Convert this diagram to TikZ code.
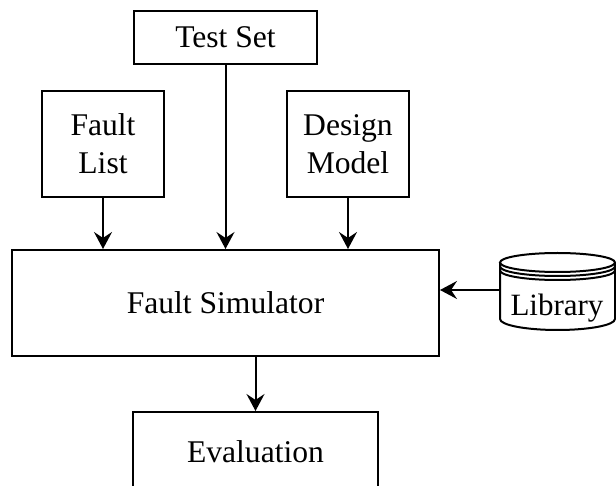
\documentclass[tikz,border=0pt]{standalone}
\usepackage{fontspec}
\setmainfont{Liberation Serif}
\usetikzlibrary{arrows.meta}
\begin{document}
\begin{tikzpicture}[x=0.5pt,y=-0.5pt,
  box/.style={draw,line width=1pt,align=center,inner sep=0pt,font=\fontsize{15.8}{19}\selectfont},
  conn/.style={line width=1pt,-{Stealth[length=8.5pt,width=9pt,inset=3pt]}},
  lbl/.style={font=\fontsize{15.5}{19}\selectfont,inner sep=0pt}]
\useasboundingbox (0,0) rectangle (616,486);
\node[box,minimum width=91.5pt,minimum height=26.5pt] (test) at (225.5,37.5) {Test Set};
\node[box,minimum width=61pt,minimum height=53pt] (fault) at (103,144) {Fault\\List};
\node[box,minimum width=61pt,minimum height=53pt] (design) at (348,144) {Design\\Model};
\node[box,minimum width=213.5pt,minimum height=53pt] (sim) at (225.5,303) {Fault Simulator};
\node[box,minimum width=122.5pt,minimum height=40pt,anchor=north] (eval) at (255.5,411) {Evaluation};
% Library cylinder
\draw[line width=1pt] (557.5,262.5) ellipse [x radius=57.5, y radius=9.5];
\draw[line width=1pt] (500,262.5) -- (500,319) arc[start angle=180,end angle=0,x radius=57.5,y radius=11] -- (615,262.5);
\draw[line width=1pt] (500,266.5) arc[start angle=180,end angle=0,x radius=57.5,y radius=9.5];
\draw[line width=1pt] (500,270.5) arc[start angle=180,end angle=0,x radius=57.5,y radius=9.5];
\node[lbl,anchor=base] (lib) at (557,315) {Library};
\coordinate (libin) at (500,290);
% connectors
\draw[conn] (fault.south) -- (fault.south |- sim.north);
\draw[conn] (test.south) -- (test.south |- sim.north);
\draw[conn] (design.south) -- (design.south |- sim.north);
\draw[conn] (sim.south -| eval.north) -- (eval.north);
\draw[conn] (libin) -- (libin -| sim.east);
\end{tikzpicture}
\end{document}
